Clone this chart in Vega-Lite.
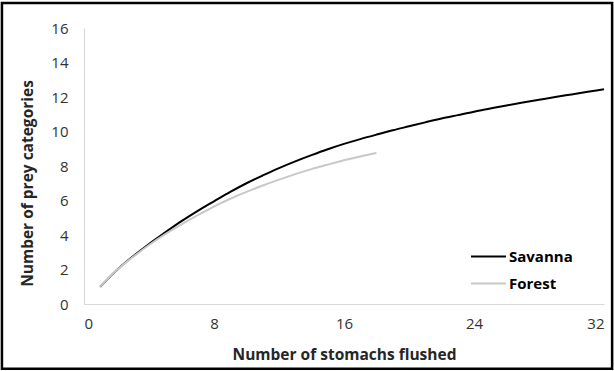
{
  "$schema": "https://vega.github.io/schema/vega-lite/v6.json",
  "width": 520,
  "height": 276,
  "autosize": {"type": "none"},
  "padding": {"left": 84, "top": 28, "right": 10, "bottom": 67},
  "background": "white",
  "config": {
    "view": {"stroke": null},
    "font": "Open Sans",
    "axis": {
      "grid": false,
      "ticks": false,
      "labelOverlap": false,
      "domainColor": "#d9d9d9",
      "domainWidth": 1.2,
      "labelColor": "#333333",
      "labelFontSize": 15,
      "labelFont": "Open Sans",
      "titleFont": "Open Sans",
      "titleFontSize": 15.5,
      "titleFontWeight": "bold",
      "titleColor": "#262626"
    }
  },
  "datasets": {
    "curves": [
      {"n": 1, "v": 1.0, "habitat": "Savanna"},
      {"n": 2, "v": 1.95, "habitat": "Savanna"},
      {"n": 3, "v": 2.75, "habitat": "Savanna"},
      {"n": 4, "v": 3.48, "habitat": "Savanna"},
      {"n": 5, "v": 4.15, "habitat": "Savanna"},
      {"n": 6, "v": 4.8, "habitat": "Savanna"},
      {"n": 7, "v": 5.4, "habitat": "Savanna"},
      {"n": 8, "v": 5.95, "habitat": "Savanna"},
      {"n": 9, "v": 6.5, "habitat": "Savanna"},
      {"n": 10, "v": 7.0, "habitat": "Savanna"},
      {"n": 11, "v": 7.45, "habitat": "Savanna"},
      {"n": 12, "v": 7.88, "habitat": "Savanna"},
      {"n": 13, "v": 8.27, "habitat": "Savanna"},
      {"n": 14, "v": 8.63, "habitat": "Savanna"},
      {"n": 15, "v": 8.97, "habitat": "Savanna"},
      {"n": 16, "v": 9.28, "habitat": "Savanna"},
      {"n": 17, "v": 9.56, "habitat": "Savanna"},
      {"n": 18, "v": 9.82, "habitat": "Savanna"},
      {"n": 19, "v": 10.07, "habitat": "Savanna"},
      {"n": 20, "v": 10.3, "habitat": "Savanna"},
      {"n": 21, "v": 10.53, "habitat": "Savanna"},
      {"n": 22, "v": 10.75, "habitat": "Savanna"},
      {"n": 23, "v": 10.95, "habitat": "Savanna"},
      {"n": 24, "v": 11.15, "habitat": "Savanna"},
      {"n": 25, "v": 11.33, "habitat": "Savanna"},
      {"n": 26, "v": 11.51, "habitat": "Savanna"},
      {"n": 27, "v": 11.68, "habitat": "Savanna"},
      {"n": 28, "v": 11.84, "habitat": "Savanna"},
      {"n": 29, "v": 12.0, "habitat": "Savanna"},
      {"n": 30, "v": 12.15, "habitat": "Savanna"},
      {"n": 31, "v": 12.3, "habitat": "Savanna"},
      {"n": 32, "v": 12.45, "habitat": "Savanna"},
      {"n": 1, "v": 1.0, "habitat": "Forest"},
      {"n": 2, "v": 1.95, "habitat": "Forest"},
      {"n": 3, "v": 2.72, "habitat": "Forest"},
      {"n": 4, "v": 3.42, "habitat": "Forest"},
      {"n": 5, "v": 4.05, "habitat": "Forest"},
      {"n": 6, "v": 4.62, "habitat": "Forest"},
      {"n": 7, "v": 5.15, "habitat": "Forest"},
      {"n": 8, "v": 5.65, "habitat": "Forest"},
      {"n": 9, "v": 6.1, "habitat": "Forest"},
      {"n": 10, "v": 6.5, "habitat": "Forest"},
      {"n": 11, "v": 6.87, "habitat": "Forest"},
      {"n": 12, "v": 7.21, "habitat": "Forest"},
      {"n": 13, "v": 7.53, "habitat": "Forest"},
      {"n": 14, "v": 7.82, "habitat": "Forest"},
      {"n": 15, "v": 8.08, "habitat": "Forest"},
      {"n": 16, "v": 8.33, "habitat": "Forest"},
      {"n": 17, "v": 8.55, "habitat": "Forest"},
      {"n": 18, "v": 8.75, "habitat": "Forest"}
    ],
    "frame": [{"x0": -5.05, "x1": 32.5, "y0": -3.75, "y1": 17.45}]
  },
  "layer": [
    {
      "data": {"name": "curves"},
      "mark": {"type": "line", "strokeWidth": 2, "interpolate": "monotone"},
      "encoding": {
        "x": {
          "field": "n", "type": "quantitative",
          "scale": {"domain": [0, 32], "nice": false, "zero": false},
          "axis": {"values": [0, 8, 16, 24, 32], "labelOverlap": false, "title": "Number of stomachs flushed", "labelPadding": 12, "titlePadding": 16}
        },
        "y": {
          "field": "v", "type": "quantitative",
          "scale": {"domain": [0, 16], "nice": false, "zero": false},
          "axis": {"values": [0, 2, 4, 6, 8, 10, 12, 14, 16], "tickCount": 9, "labelOverlap": false, "title": "Number of prey categories", "labelPadding": 16, "titleX": -57, "titleY": 155, "titleBaseline": "middle", "titleAlign": "center", "titleAngle": 270}
        },
        "color": {
          "field": "habitat", "type": "nominal",
          "scale": {"domain": ["Savanna", "Forest"], "range": ["#000000", "#c8c8c8"]},
          "legend": {
            "title": null,
            "orient": "none",
            "legendX": 386,
            "legendY": 210,
            "symbolType": "stroke",
            "symbolSize": 1225,
            "symbolStrokeWidth": 2,
            "labelFontSize": 15,
            "labelFontWeight": "bold",
            "labelColor": "#000000",
            "labelFont": "Open Sans",
            "labelOffset": 2,
            "rowPadding": -8
          }
        }
      }
    },
    {
      "data": {"name": "frame"},
      "mark": {"type": "rect", "fill": null, "stroke": "black", "strokeWidth": 2.5, "clip": false},
      "encoding": {
        "x": {"field": "x0", "type": "quantitative", "scale": {"domain": [0, 32], "nice": false, "zero": false},
          "axis": {"values": [0, 8, 16, 24, 32], "labelOverlap": false, "title": "Number of stomachs flushed", "labelPadding": 12, "titlePadding": 16}},
        "x2": {"field": "x1"},
        "y": {"field": "y0", "type": "quantitative", "scale": {"domain": [0, 16], "nice": false, "zero": false},
          "axis": {"values": [0, 2, 4, 6, 8, 10, 12, 14, 16], "tickCount": 9, "labelOverlap": false, "title": "Number of prey categories", "labelPadding": 16, "titleX": -57, "titleY": 155, "titleBaseline": "middle", "titleAlign": "center", "titleAngle": 270}},
        "y2": {"field": "y1"}
      }
    }
  ]
}
